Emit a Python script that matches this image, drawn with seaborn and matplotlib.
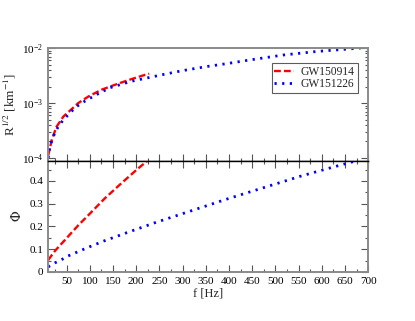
import numpy as np
import pandas as pd
import matplotlib
matplotlib.use("Agg")
import matplotlib.pyplot as plt
import seaborn as sns
from matplotlib.ticker import MultipleLocator, LogLocator, NullFormatter

# dados (painel superior: R^1/2, painel inferior: Phi)
f_150914 = [10, 18, 28, 43, 61, 75, 97, 125, 154, 183, 219, 228]
r_150914 = [1.1e-4, 2.15e-4, 3.7e-4, 5.7e-4, 7.8e-4, 1.0e-3, 1.32e-3, 1.75e-3,
            2.15e-3, 2.62e-3, 3.27e-3, 3.42e-3]
f_151226 = [10, 14, 19, 26, 36, 46, 68, 82, 97, 111, 143, 190, 222, 255, 300,
            350, 400, 445, 517, 589, 661, 690]
r_151226 = [1.0e-4, 1.6e-4, 2.2e-4, 3.1e-4, 4.2e-4, 5.3e-4, 8.2e-4, 1.0e-3,
            1.18e-3, 1.38e-3, 1.9e-3, 2.5e-3, 2.85e-3, 3.27e-3, 3.9e-3,
            4.6e-3, 5.3e-3, 6.1e-3, 7.5e-3, 8.7e-3, 9.7e-3, 1.02e-2]

fphi_150914 = [10, 25, 46, 75, 97, 132, 168, 204, 228]
phi_150914 = [0.052, 0.093, 0.14, 0.205, 0.25, 0.323, 0.39, 0.455, 0.495]
fphi_151226 = [10, 25, 39, 53, 86, 100, 129, 179, 240, 319, 398, 477, 556,
               621, 668, 690]
phi_151226 = [0.022, 0.04, 0.054, 0.07, 0.099, 0.111, 0.135, 0.172, 0.216,
              0.269, 0.322, 0.372, 0.422, 0.459, 0.485, 0.497]

sns.set_style("ticks")
plt.rcParams['font.family'] = ['Liberation Serif', 'DejaVu Serif']
plt.rcParams['mathtext.fontset'] = 'stix'

fig = plt.figure(figsize=(4.15, 3.21), dpi=100)
ax1 = fig.add_axes([0.116, 0.500, 0.771, 0.350])
ax2 = fig.add_axes([0.116, 0.153, 0.771, 0.347], sharex=ax1)

estilo_red = dict(color="red", lw=1.7, dashes=(2.9, 1.3))
estilo_blue = dict(color="blue", lw=2.0, dashes=(0.8, 1.95))

sns.lineplot(x=f_150914, y=r_150914, ax=ax1, label="GW150914", **estilo_red)
sns.lineplot(x=f_151226, y=r_151226, ax=ax1, label="GW151226", **estilo_blue)
sns.lineplot(x=fphi_150914, y=phi_150914, ax=ax2, **estilo_red)
sns.lineplot(x=fphi_151226, y=phi_151226, ax=ax2, **estilo_blue)

ax1.set_yscale("log")
ax1.set_ylim(0.9e-4, 1.0e-2)
ax1.set_xlim(10, 700)
ax2.set_ylim(0, 0.49)

ax1.yaxis.set_major_locator(LogLocator(base=10, numticks=5))
ax1.yaxis.set_minor_locator(LogLocator(base=10, subs=np.arange(2, 10), numticks=20))
ax1.yaxis.set_minor_formatter(NullFormatter())
ax2.xaxis.set_major_locator(MultipleLocator(50))
ax2.xaxis.set_minor_locator(MultipleLocator(25))
ax2.yaxis.set_minor_locator(MultipleLocator(0.05))
ax2.set_yticks([0, 0.1, 0.2, 0.3, 0.4])
ax2.set_yticklabels(["0", "0.1", "0.2", "0.3", "0.4"])

for ax in (ax1, ax2):
    for s in ax.spines.values():
        s.set_color("#8a8a8a")
        s.set_linewidth(1.4)
    ax.tick_params(which="both", direction="in", labelsize=8, colors="#555555",
                   labelcolor="black", right=True)
    ax.tick_params(which="major", length=5, width=0.8)
    ax.tick_params(which="minor", length=2.5, width=0.8)

ax1.tick_params(axis="x", which="both", bottom=True, top=False, labelbottom=False)
ax2.tick_params(axis="x", which="both", bottom=True, top=True)
ax1.spines["bottom"].set_color("black")
ax1.spines["bottom"].set_linewidth(1.0)
ax2.spines["top"].set_color("black")
ax2.spines["top"].set_linewidth(1.0)

ax1.set_ylabel(r"R$^{1/2}$ [km$^{-1}$]", fontsize=9.5, labelpad=3)
ax2.set_ylabel(r"$\Phi$", fontsize=10, labelpad=4)
ax2.set_xlabel("f [Hz]", fontsize=9, labelpad=1)
ax1.set_xlabel("")

leg = ax1.legend(loc="upper right", bbox_to_anchor=(0.968, 0.87), fontsize=8.3,
                 frameon=True, fancybox=False, handlelength=1.7,
                 borderpad=0.25, labelspacing=0.05, handletextpad=0.6,
                 borderaxespad=0.0)
leg.get_frame().set_edgecolor("#333333")
leg.get_frame().set_linewidth(0.8)

fig.savefig("out.png", dpi=100)
